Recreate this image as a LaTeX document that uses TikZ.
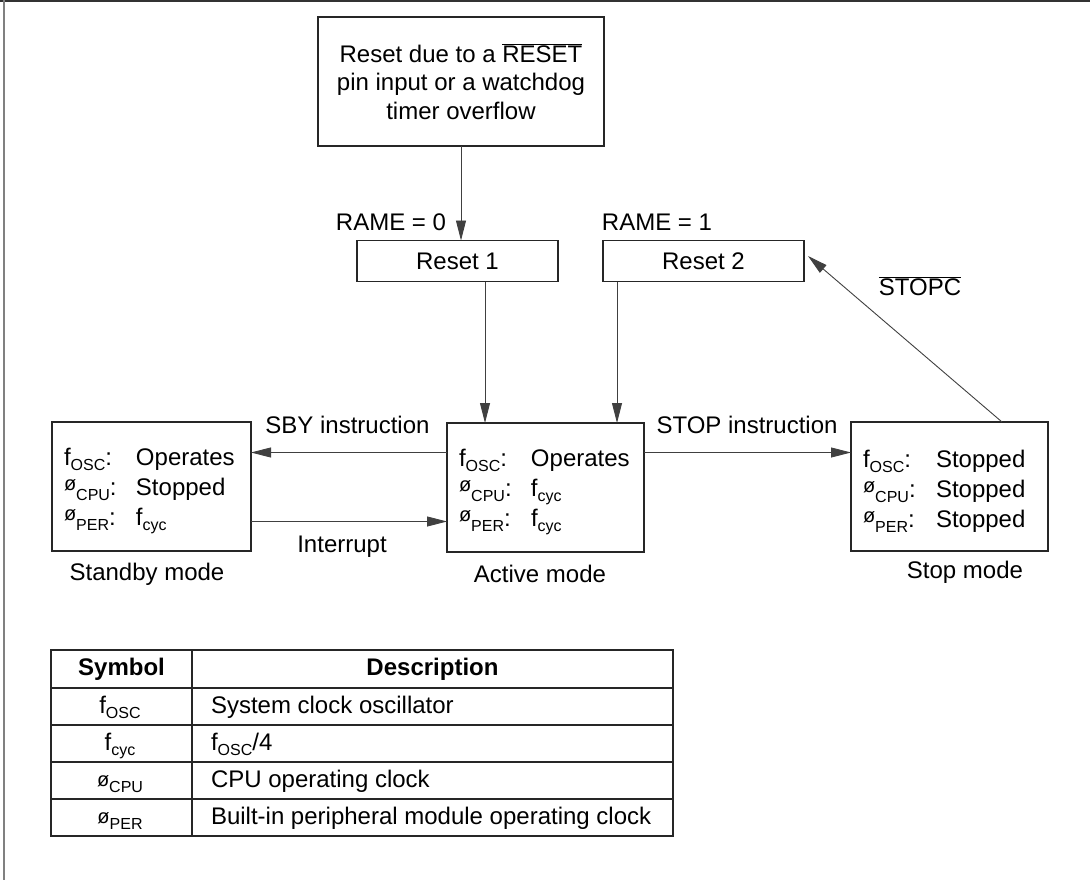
\documentclass[tikz,border=0pt]{standalone}
\usepackage{fontspec}
\setmainfont{Liberation Sans}
\usetikzlibrary{arrows.meta}
\newcommand\sub[1]{\raisebox{-5pt}{\fontsize{16}{16}\selectfont #1}}
\newcommand\phib{\raisebox{4.5pt}{\fontsize{20}{20}\selectfont ø}}
\newcommand\phit{\raisebox{0.5pt}{\fontsize{20}{20}\selectfont ø}}
\newcommand\colA[1]{\makebox[72pt][l]{#1}}
\newcommand\colB[1]{\makebox[73pt][l]{#1}}
\newcommand\topstrut{\rule{0pt}{26pt}}
\begin{document}
\begin{tikzpicture}[x=1pt,y=-1pt,
  font=\fontsize{24}{28.5}\selectfont,
  every node/.style={inner sep=0pt, outer sep=0pt},
  boxst/.style={draw=black!85, line width=1.4pt, minimum width=#1},
  modebox/.style={draw=black!85, line width=1.4pt, text width=175pt, inner xsep=12pt,
     minimum height=129pt, align=left, font=\fontsize{24}{30}\selectfont},
  arr/.style={draw=black!75, line width=0.9pt, -{Triangle[length=20pt,width=10pt]}},
  lbl/.style={anchor=base},
  tline/.style={draw=black!85, line width=1.3pt}]
\useasboundingbox (0,0) rectangle (1090,880);
% frame
\draw[black!80, line width=2pt] (0,1) -- (1090,1);
\draw[black!50, line width=2.5pt] (4,0) -- (4,880);

% nodes
\node[boxst=286pt, minimum height=129pt, align=center] (src) at (461,81.5)
  {Reset due to a $\overline{\mbox{RESET}}$\\pin input or a watchdog\\timer overflow};
\node[boxst=201pt, minimum height=41pt] (r1) at (457.5,261) {Reset 1};
\node[boxst=201pt, minimum height=41pt] (r2) at (703.5,261) {Reset 2};
\node[modebox] (sb) at (151.5,486.5)
  {\topstrut\colA{f\sub{OSC}:}Operates\\\colA{\phib\sub{CPU}:}Stopped\\\colA{\phib\sub{PER}:}f\sub{cyc}};
\node[modebox, text width=173pt] (act) at (545.5,487.5)
  {\topstrut\colA{f\sub{OSC}:}Operates\\\colA{\phib\sub{CPU}:}f\sub{cyc}\\\colA{\phib\sub{PER}:}f\sub{cyc}};
\node[modebox, text width=173pt] (stp) at (949.5,486.5)
  {\topstrut\colB{f\sub{OSC}:}Stopped\\\colB{\phib\sub{CPU}:}Stopped\\\colB{\phib\sub{PER}:}Stopped};

% labels
\node[lbl] (l0) at (391,230) {RAME = 0};
\node[lbl] (l1) at (657,230) {RAME = 1};
\node[lbl] (lsby) at (347.5,433) {SBY instruction};
\node[lbl] (lstop) at (747,433) {STOP instruction};
\node[lbl] (lint) at (342,552) {Interrupt};
\node[lbl] (lstc) at (920,295) {$\overline{\mbox{STOPC}}$};
\node[lbl] (msb) at (147,580) {Standby mode};
\node[lbl] (mact) at (540,582) {Active mode};
\node[lbl] (mstp) at (965,578) {Stop mode};

% connectors
\coordinate (yA) at (0,452.5);
\coordinate (yB) at (0,521.5);
\coordinate (stcEnd) at (808,256);
\draw[arr] (src.south) -- (src.south |- r1.north);
\draw[arr] ([xshift=27.5pt]r1.south) -- ([xshift=27.5pt]r1.south |- act.north);
\draw[arr] ([xshift=-86.5pt]r2.south) -- ([xshift=-86.5pt]r2.south |- act.north);
\draw[arr] (act.west |- yA) -- (sb.east |- yA);
\draw[arr] (sb.east |- yB) -- (act.west |- yB);
\draw[arr] (act.east |- yA) -- (stp.west |- yA);
\draw[arr] ([xshift=52.5pt]stp.north) -- (stcEnd);

% table
\coordinate (t0) at (51,650);
\coordinate (t5) at (673,836);
\draw[tline] (t0) rectangle (t5);
\draw[tline] (192,650) -- (192,836);
\foreach \yy in {688,725,762,799} \draw[tline] (51,\yy) -- (673,\yy);
\node[font=\bfseries\fontsize{24}{28}\selectfont] (h1) at (121.5,669.5) {Symbol};
\node[font=\bfseries\fontsize{24}{28}\selectfont] (h2) at (432.5,669.5) {Description};
\node[lbl] (s1) at (120,713) {f\sub{OSC}};
\node[lbl] (s2) at (120,750) {f\sub{cyc}};
\node[lbl] (s3) at (120,787) {\phit\sub{CPU}};
\node[lbl] (s4) at (120,824) {\phit\sub{PER}};
\node[anchor=base west] (d1) at (211,713) {System clock oscillator};
\node[anchor=base west] (d2) at (211,750) {f\sub{OSC}/4};
\node[anchor=base west] (d3) at (211,787) {CPU operating clock};
\node[anchor=base west] (d4) at (211,824) {Built-in peripheral module operating clock};
\end{tikzpicture}
\end{document}
